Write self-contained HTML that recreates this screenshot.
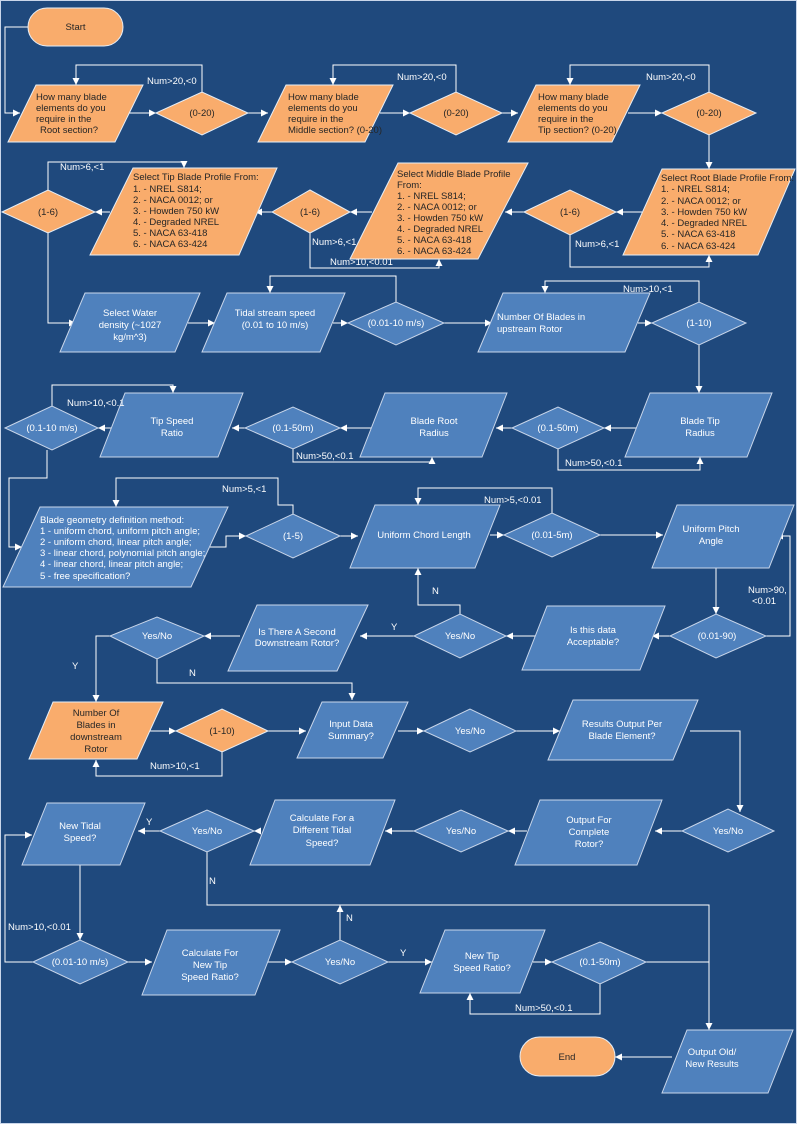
<!DOCTYPE html>
<html><head><meta charset="utf-8"><style>
html,body{margin:0;padding:0;background:#1f497d;}
svg{display:block;}
text{font-family:"Liberation Sans",sans-serif;font-size:9.5px;fill:#fff;}
.o polygon,.o rect{fill:#f9ac6c;stroke:#e6eef7;stroke-width:1;}
.b polygon{fill:#4f81bd;stroke:#c9d6ea;stroke-width:1;}
.o text{fill:#262626;}
.l{fill:none;stroke:#fff;stroke-width:1;}
</style></head><body>
<svg width="797" height="1124" viewBox="0 0 797 1124" xmlns="http://www.w3.org/2000/svg">
<defs><marker id="a" markerWidth="8" markerHeight="8" refX="7" refY="4" orient="auto" markerUnits="userSpaceOnUse"><path d="M0,0.5 L7,4 L0,7.5 z" fill="#fff"/></marker></defs>
<rect x="0.5" y="0.5" width="796" height="1123" fill="#1f497d" stroke="#c9d6ea"/>

<!-- connectors -->
<g class="l" marker-end="url(#a)">
<polyline points="28,27 5,27 5,113 20,113"/>
<polyline points="125,113 156,113"/>
<polyline points="248,113 268,113"/>
<polyline points="380,113 410,113"/>
<polyline points="502,113 518,113"/>
<polyline points="628,113 662,113"/>
<polyline points="202,92 202,65 76,65 76,85"/>
<polyline points="456,92 456,65 333,65 333,85"/>
<polyline points="709,92 709,65 570,65 570,85"/>
<polyline points="709,135 709,169"/>
<polyline points="642,212 616,212"/>
<polyline points="524,212 505,212"/>
<polyline points="372,212 350,212"/>
<polyline points="272,212 255,212"/>
<polyline points="110,212 95,212"/>
<polyline points="570,235 570,267 709,267 709,255"/>
<polyline points="310,233 310,268 439,268 439,259"/>
<polyline points="48,190 48,162 184,162 184,168"/>
<polyline points="48,233 48,323 76,323"/>
<polyline points="188,323 215,323"/>
<polyline points="333,323 348,323"/>
<polyline points="444,323 492,323"/>
<polyline points="638,323 652,323"/>
<polyline points="396,302 396,276 270,276 270,293"/>
<polyline points="699,302 699,281 545,281 545,293"/>
<polyline points="699,345 699,393"/>
<polyline points="636,428 604,428"/>
<polyline points="512,428 496,428"/>
<polyline points="372,428 340,428"/>
<polyline points="245,428 232,428"/>
<polyline points="112,428 98,428"/>
<polyline points="558,449 558,470 700,470 700,457"/>
<polyline points="293,449 293,462 432,462 432,457"/>
<polyline points="52,406 52,385 173,385 173,393"/>
<polyline points="47,450 47,478 9,478 9,547 22,547"/>
<polyline points="210,547 226,547 226,536 246,536"/>
<polyline points="340,536 358,536"/>
<polyline points="490,535 504,535"/>
<polyline points="600,535 663,535"/>
<polyline points="293,514 293,505 278,505 278,478 116,478 116,507"/>
<polyline points="552,513 552,488 418,488 418,505"/>
<polyline points="766,636 790,636 790,536 776,536"/>
<polyline points="716,568 716,614"/>
<polyline points="670,636 652,636"/>
<polyline points="535,636 506,636"/>
<polyline points="460,614 460,605 418,605 418,568"/>
<polyline points="414,636 360,636"/>
<polyline points="240,636 204,636"/>
<polyline points="110,636 96,636 96,702"/>
<polyline points="157,659 157,683 352,683 352,700"/>
<polyline points="150,731 176,731"/>
<polyline points="268,731 306,731"/>
<polyline points="398,731 424,731"/>
<polyline points="516,731 560,731"/>
<polyline points="222,752 222,776 96,776 96,760"/>
<polyline points="690,731 740,731 740,812"/>
<polyline points="682,831 655,831"/>
<polyline points="527,831 508,831"/>
<polyline points="414,831 385,831"/>
<polyline points="260,831 254,831"/>
<polyline points="160,831 138,831"/>
<polyline points="207,852 207,905 709,905 709,1030"/>
<polyline points="33,962 5,962 5,835 32,835"/>
<polyline points="80,865 80,940"/>
<polyline points="128,962 152,962"/>
<polyline points="268,962 292,962"/>
<polyline points="340,940 340,905"/>
<polyline points="388,962 432,962"/>
<polyline points="533,962 552,962"/>
<polyline points="600,984 600,1014 470,1014 470,993"/>
<polyline points="672,1057 615,1057"/>
</g>
<polyline class="l" points="646,962 709,962"/>

<!-- orange shapes -->
<g class="o">
<rect x="28" y="8" width="95" height="38" rx="19"/>
<text x="75.5" y="30" text-anchor="middle">Start</text>
<polygon points="36,85 143,85 115,142 8,142"/>
<text x="36" y="100">How many blade</text><text x="36" y="111">elements do you</text><text x="36" y="122">require in the</text><text x="40" y="133">Root section?</text>
<polygon points="156,113 202,92 248,113 202,135"/><text x="202" y="116" text-anchor="middle">(0-20)</text>
<polygon points="286,85 393,85 365,142 258,142"/>
<text x="288" y="100">How many blade</text><text x="288" y="111">elements do you</text><text x="288" y="122">require in the</text><text x="288" y="133">Middle section? (0-20)</text>
<polygon points="410,113 456,92 502,113 456,135"/><text x="456" y="116" text-anchor="middle">(0-20)</text>
<polygon points="536,85 640,85 612,142 508,142"/>
<text x="538" y="100">How many blade</text><text x="538" y="111">elements do you</text><text x="538" y="122">require in the</text><text x="538" y="133">Tip section? (0-20)</text>
<polygon points="662,113 709,92 756,113 709,135"/><text x="709" y="116" text-anchor="middle">(0-20)</text>

<polygon points="662,169 795,169 758,255 623,255"/>
<g style="font-size:9.3px"><text x="661" y="181">Select Root Blade Profile From:</text><text x="661" y="192">1. - NREL S814;</text><text x="661" y="204">2. - NACA 0012; or</text><text x="661" y="215">3. - Howden 750 kW</text><text x="661" y="226">4. - Degraded NREL</text><text x="661" y="237">5. - NACA 63-418</text><text x="661" y="249">6. - NACA 63-424</text></g>
<polygon points="524,212 570,190 616,212 570,235"/><text x="570" y="215" text-anchor="middle">(1-6)</text>
<polygon points="398,163 528,163 478,259 350,259"/>
<text x="397" y="177">Select Middle Blade Profile</text><text x="397" y="188">From:</text><text x="397" y="199">1. - NREL S814;</text><text x="397" y="210">2. - NACA 0012; or</text><text x="397" y="221">3. - Howden 750 kW</text><text x="397" y="232">4. - Degraded NREL</text><text x="397" y="243">5. - NACA 63-418</text><text x="397" y="254">6. - NACA 63-424</text>
<polygon points="272,212 310,190 350,212 310,233"/><text x="310" y="215" text-anchor="middle">(1-6)</text>
<polygon points="133,168 277,168 239,255 90,255"/>
<text x="133" y="180">Select Tip Blade Profile From:</text><text x="133" y="192">1. - NREL S814;</text><text x="133" y="203">2. - NACA 0012; or</text><text x="133" y="214">3. - Howden 750 kW</text><text x="133" y="225">4. - Degraded NREL</text><text x="133" y="236">5. - NACA 63-418</text><text x="133" y="247">6. - NACA 63-424</text>
<polygon points="2,212 48,190 95,212 48,233"/><text x="48" y="215" text-anchor="middle">(1-6)</text>

<polygon points="53,702 163,702 137,759 29,759"/>
<text x="96" y="716" text-anchor="middle">Number Of</text><text x="96" y="728" text-anchor="middle">Blades in</text><text x="96" y="740" text-anchor="middle">downstream</text><text x="96" y="752" text-anchor="middle">Rotor</text>
<polygon points="176,731 222,709 268,731 222,752"/><text x="222" y="734" text-anchor="middle">(1-10)</text>
<rect x="520" y="1037" width="95" height="39" rx="19.5"/>
<text x="567" y="1060" text-anchor="middle">End</text>
</g>

<!-- blue shapes -->
<g class="b">
<polygon points="85,293 200,293 175,352 60,352"/>
<text x="130" y="316" text-anchor="middle">Select Water</text><text x="130" y="328" text-anchor="middle">density (~1027</text><text x="130" y="340" text-anchor="middle">kg/m^3)</text>
<polygon points="227,293 345,293 320,352 202,352"/>
<text x="275" y="316" text-anchor="middle">Tidal stream speed</text><text x="275" y="328" text-anchor="middle">(0.01 to 10 m/s)</text>
<polygon points="348,323 396,302 444,323 396,345"/><text x="396" y="326" text-anchor="middle">(0.01-10 m/s)</text>
<polygon points="503,293 650,293 625,352 478,352"/>
<text x="497" y="320">Number Of Blades in</text><text x="497" y="332">upstream Rotor</text>
<polygon points="652,323 699,302 746,323 699,345"/><text x="699" y="326" text-anchor="middle">(1-10)</text>

<polygon points="650,393 772,393 747,457 625,457"/>
<text x="700" y="424" text-anchor="middle">Blade Tip</text><text x="700" y="436" text-anchor="middle">Radius</text>
<polygon points="512,428 558,407 604,428 558,449"/><text x="558" y="431" text-anchor="middle">(0.1-50m)</text>
<polygon points="385,393 507,393 482,457 360,457"/>
<text x="434" y="424" text-anchor="middle">Blade Root</text><text x="434" y="436" text-anchor="middle">Radius</text>
<polygon points="245,428 293,407 340,428 293,449"/><text x="293" y="431" text-anchor="middle">(0.1-50m)</text>
<polygon points="125,393 243,393 218,457 100,457"/>
<text x="172" y="424" text-anchor="middle">Tip Speed</text><text x="172" y="436" text-anchor="middle">Ratio</text>
<polygon points="5,428 52,406 98,428 52,450"/><text x="52" y="431" text-anchor="middle">(0.1-10 m/s)</text>

<polygon points="40,507 228,507 191,587 3,587"/>
<text x="40" y="523">Blade geometry definition method:</text><text x="40" y="534">1 - uniform chord, uniform pitch angle;</text><text x="40" y="545">2 - uniform chord, linear pitch angle;</text><text x="40" y="556">3 - linear chord, polynomial pitch angle;</text><text x="40" y="567">4 - linear chord, linear pitch angle;</text><text x="40" y="579">5 - free specification?</text>
<polygon points="246,536 293,514 340,536 293,558"/><text x="293" y="539" text-anchor="middle">(1-5)</text>
<polygon points="375,505 500,505 475,568 350,568"/>
<text x="424" y="538" text-anchor="middle">Uniform Chord Length</text>
<polygon points="504,535 552,513 600,535 552,557"/><text x="552" y="538" text-anchor="middle">(0.01-5m)</text>
<polygon points="677,505 794,505 769,568 652,568"/>
<text x="711" y="532" text-anchor="middle">Uniform Pitch</text><text x="711" y="544" text-anchor="middle">Angle</text>

<polygon points="670,636 716,614 766,636 716,658"/><text x="717" y="639" text-anchor="middle">(0.01-90)</text>
<polygon points="547,606 665,606 640,670 522,670"/>
<text x="593" y="633" text-anchor="middle">Is this data</text><text x="593" y="645" text-anchor="middle">Acceptable?</text>
<polygon points="414,636 460,614 506,636 460,658"/><text x="460" y="639" text-anchor="middle">Yes/No</text>
<polygon points="257,605 368,605 337,671 228,671"/>
<text x="297" y="635" text-anchor="middle">Is There A Second</text><text x="297" y="646" text-anchor="middle">Downstream Rotor?</text>
<polygon points="110,636 157,617 204,636 157,659"/><text x="157" y="639" text-anchor="middle">Yes/No</text>

<polygon points="322,702 408,702 383,758 297,758"/>
<text x="351" y="727" text-anchor="middle">Input Data</text><text x="351" y="739" text-anchor="middle">Summary?</text>
<polygon points="424,731 470,709 516,731 470,752"/><text x="470" y="734" text-anchor="middle">Yes/No</text>
<polygon points="573,700 698,700 673,760 548,760"/>
<text x="622" y="727" text-anchor="middle">Results Output Per</text><text x="622" y="739" text-anchor="middle">Blade Element?</text>

<polygon points="682,831 728,809 774,831 728,852"/><text x="728" y="834" text-anchor="middle">Yes/No</text>
<polygon points="540,800 662,800 637,865 515,865"/>
<text x="589" y="823" text-anchor="middle">Output For</text><text x="589" y="835" text-anchor="middle">Complete</text><text x="589" y="847" text-anchor="middle">Rotor?</text>
<polygon points="414,831 461,810 508,831 461,852"/><text x="461" y="834" text-anchor="middle">Yes/No</text>
<polygon points="275,800 395,800 370,865 250,865"/>
<text x="322" y="821" text-anchor="middle">Calculate For a</text><text x="322" y="833" text-anchor="middle">Different Tidal</text><text x="322" y="846" text-anchor="middle">Speed?</text>
<polygon points="160,831 207,810 254,831 207,852"/><text x="207" y="834" text-anchor="middle">Yes/No</text>
<polygon points="47,803 145,803 120,865 22,865"/>
<text x="80" y="829" text-anchor="middle">New Tidal</text><text x="80" y="841" text-anchor="middle">Speed?</text>

<polygon points="33,962 80,940 128,962 80,984"/><text x="80" y="965" text-anchor="middle">(0.01-10 m/s)</text>
<polygon points="167,930 280,930 255,995 142,995"/>
<text x="210" y="956" text-anchor="middle">Calculate For</text><text x="210" y="968" text-anchor="middle">New Tip</text><text x="210" y="980" text-anchor="middle">Speed Ratio?</text>
<polygon points="292,962 340,940 388,962 340,984"/><text x="340" y="965" text-anchor="middle">Yes/No</text>
<polygon points="445,930 545,930 520,993 420,993"/>
<text x="482" y="959" text-anchor="middle">New Tip</text><text x="482" y="971" text-anchor="middle">Speed Ratio?</text>
<polygon points="552,962 600,942 646,962 600,984"/><text x="600" y="965" text-anchor="middle">(0.1-50m)</text>
<polygon points="687,1030 793,1030 768,1093 662,1093"/>
<text x="712" y="1055" text-anchor="middle">Output Old/</text><text x="712" y="1067" text-anchor="middle">New Results</text>
</g>

<!-- labels -->
<g>
<text x="147" y="84">Num&gt;20,&lt;0</text>
<text x="397" y="80">Num&gt;20,&lt;0</text>
<text x="646" y="80">Num&gt;20,&lt;0</text>
<text x="60" y="170">Num&gt;6,&lt;1</text>
<text x="312" y="245">Num&gt;6,&lt;1</text>
<text x="575" y="247">Num&gt;6,&lt;1</text>
<text x="330" y="265">Num&gt;10,&lt;0.01</text>
<text x="623" y="292">Num&gt;10,&lt;1</text>
<text x="67" y="406">Num&gt;10,&lt;0.1</text>
<text x="296" y="459">Num&gt;50,&lt;0.1</text>
<text x="565" y="466">Num&gt;50,&lt;0.1</text>
<text x="222" y="492">Num&gt;5,&lt;1</text>
<text x="484" y="503">Num&gt;5,&lt;0.01</text>
<text x="748" y="593">Num&gt;90,</text>
<text x="752" y="604">&lt;0.01</text>
<text x="432" y="594">N</text>
<text x="391" y="630">Y</text>
<text x="72" y="669">Y</text>
<text x="189" y="676">N</text>
<text x="150" y="769">Num&gt;10,&lt;1</text>
<text x="146" y="825">Y</text>
<text x="209" y="884">N</text>
<text x="8" y="930">Num&gt;10,&lt;0.01</text>
<text x="346" y="921">N</text>
<text x="400" y="956">Y</text>
<text x="515" y="1011">Num&gt;50,&lt;0.1</text>
</g>
</svg>
</body></html>
